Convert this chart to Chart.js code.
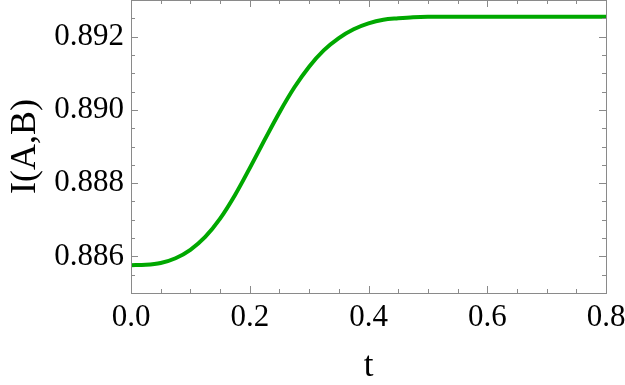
<!DOCTYPE html>
<html>
<head>
<meta charset="utf-8">
<script src="https://cdn.jsdelivr.net/npm/chart.js@4/dist/chart.umd.min.js"></script>
<style>
  html, body { margin: 0; padding: 0; background: #fff; }
  #wrap { width: 625px; height: 385px; }
</style>
</head>
<body>
<div id="wrap"><canvas id="c" width="625" height="385"></canvas></div>
<script>
// valores
const tValues = [0, 0.025, 0.05, 0.075, 0.1, 0.125, 0.15, 0.175, 0.2, 0.225, 0.25, 0.275, 0.3,
    0.325, 0.35, 0.375, 0.4, 0.425, 0.45, 0.475, 0.5, 0.55, 0.6, 0.65, 0.7, 0.75, 0.8];
const iValues = [0.88576, 0.88577, 0.88582, 0.88595, 0.88618, 0.88653, 0.88703, 0.88767, 0.88841,
    0.88918, 0.88993, 0.89061, 0.89118, 0.89163, 0.89196, 0.89220, 0.89236, 0.89246, 0.89250,
    0.89253, 0.89254, 0.89254, 0.89254, 0.89254, 0.89254, 0.89254, 0.89254];
const xTickLabels = [0, 0.2, 0.4, 0.6, 0.8];
const yTickLabels = [0.886, 0.888, 0.890, 0.892];

const serif = "'Liberation Serif', 'Times New Roman', serif";
const frameColor = '#8a8a8a';

function isMajor(v, list) {
    return list.some(m => Math.abs(m - v) < 1e-7);
}

// marco y marcas hacia dentro, estilo Mathematica
const framePlugin = {
    id: 'frame',
    afterDraw(chart) {
        const { ctx, chartArea: a, scales } = chart;
        ctx.save();
        ctx.strokeStyle = frameColor;
        ctx.lineWidth = 1;
        ctx.beginPath();
        scales.x.ticks.forEach(t => {
            const px = Math.round(scales.x.getPixelForValue(t.value)) + 0.5;
            const len = isMajor(t.value, xTickLabels) ? 7 : 4;
            ctx.moveTo(px, a.bottom); ctx.lineTo(px, a.bottom - len);
            ctx.moveTo(px, a.top); ctx.lineTo(px, a.top + len);
        });
        scales.y.ticks.forEach(t => {
            const py = Math.round(scales.y.getPixelForValue(t.value)) + 0.5;
            const len = isMajor(t.value, yTickLabels) ? 7 : 4;
            ctx.moveTo(a.left, py); ctx.lineTo(a.left + len, py);
            ctx.moveTo(a.right, py); ctx.lineTo(a.right - len, py);
        });
        ctx.stroke();
        ctx.strokeRect(Math.round(a.left) + 0.5, Math.round(a.top) + 0.5,
            Math.round(a.right - a.left), Math.round(a.bottom - a.top));
        ctx.restore();
    }
};

new Chart(document.getElementById('c'), {
    type: 'line',
    data: {
        datasets: [{
            data: tValues.map((t, i) => ({ x: t, y: iValues[i] })),
            borderColor: '#00a800',
            borderWidth: 4,
            pointRadius: 0,
            fill: false,
            cubicInterpolationMode: 'monotone'
        }]
    },
    options: {
        responsive: false,
        animation: false,
        layout: { padding: { top: 0, right: 19, left: 0, bottom: 0 } },
        plugins: { legend: { display: false }, tooltip: { enabled: false } },
        scales: {
            x: {
                type: 'linear',
                min: 0, max: 0.8,
                afterFit: s => { s.height = 92; s.paddingLeft = 0; s.paddingRight = 0; },
                grid: { display: false, drawTicks: false },
                border: { display: false },
                ticks: {
                    stepSize: 0.05,
                    padding: 6,
                    maxRotation: 0,
                    autoSkip: false,
                    color: '#000',
                    font: { family: serif, size: 31 },
                    callback: v => isMajor(v, xTickLabels) ? v.toFixed(1) : ''
                },
                title: {
                    display: true, text: 't', color: '#000',
                    font: { family: serif, size: 35 },
                    padding: { top: 0, bottom: -3 }
                }
            },
            y: {
                min: 0.885, max: 0.893,
                afterFit: s => { s.width = 131; s.paddingTop = 0; s.paddingBottom = 0; },
                grid: { display: false, drawTicks: false },
                border: { display: false },
                ticks: {
                    stepSize: 0.0005,
                    padding: 7,
                    autoSkip: false,
                    color: '#000',
                    font: { family: serif, size: 31 },
                    callback: v => isMajor(v, yTickLabels) ? v.toFixed(3) : ''
                },
                title: {
                    display: true, text: 'I(A,B)', color: '#000',
                    font: { family: serif, size: 36 },
                    padding: { top: 4, bottom: 0 }
                }
            }
        }
    },
    plugins: [framePlugin]
});
</script>
</body>
</html>
